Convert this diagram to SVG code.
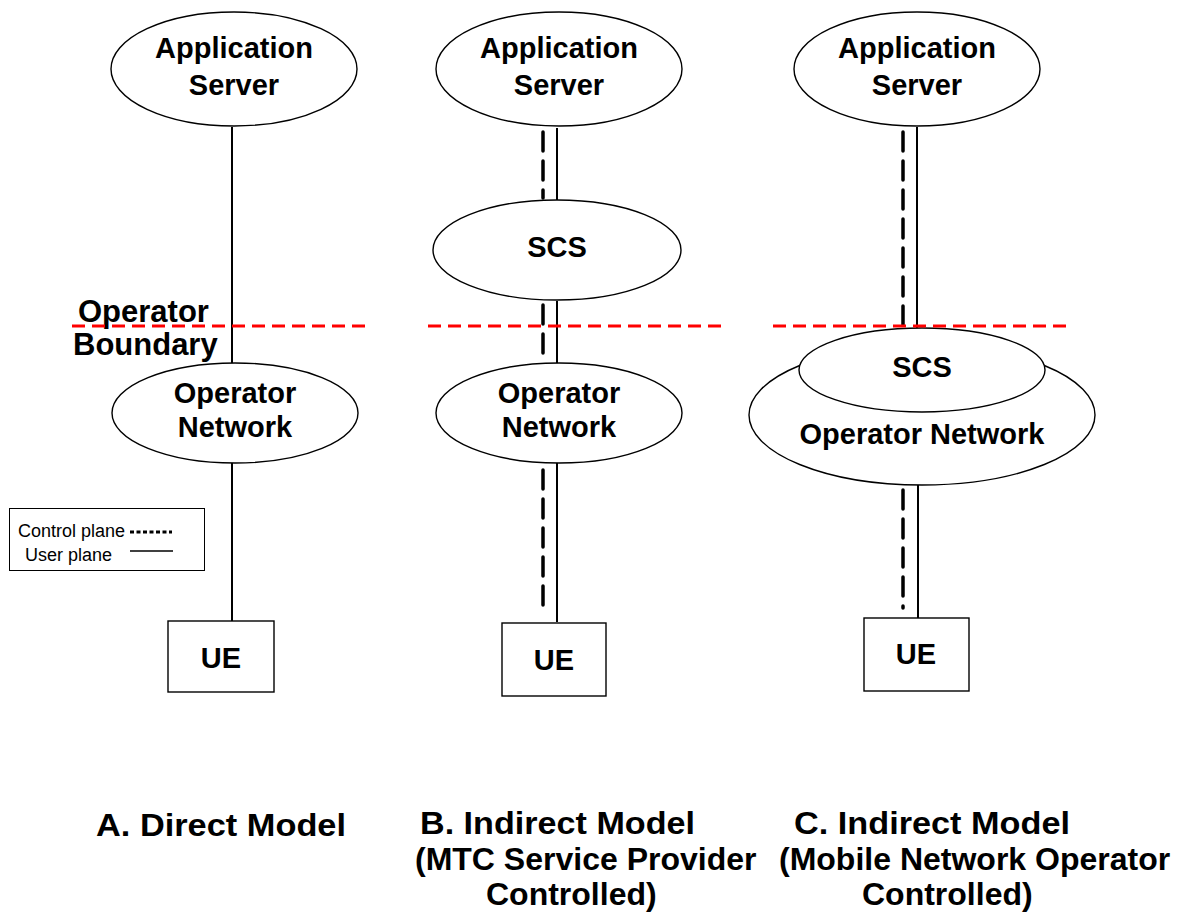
<svg xmlns="http://www.w3.org/2000/svg" width="1180" height="916" viewBox="0 0 1180 916">
<style>
.node{fill:#fff;stroke:#000;stroke-width:1.4}
.t{font-family:"Liberation Sans",Arial,sans-serif;font-weight:bold;font-size:29px;text-anchor:middle;fill:#000}
.bt{font-family:"Liberation Sans",Arial,sans-serif;font-weight:bold;font-size:31px;fill:#000}
.cap{font-family:"Liberation Sans",Arial,sans-serif;font-weight:bold;font-size:32px;fill:#000}
.lg{font-family:"Liberation Sans",Arial,sans-serif;font-size:18px;fill:#000}
.up{stroke:#000;stroke-width:2;fill:none}
.cp{stroke:#000;stroke-width:3.5;fill:none;stroke-dasharray:19 10;stroke-linecap:round}
.bd{stroke:#f00;stroke-width:3;fill:none;stroke-dasharray:13 7}
</style>
<rect width="1180" height="916" fill="#fff"/>
<g id="connectors">
<line class="up" x1="232" y1="127" x2="232" y2="363"/>
<line class="up" x1="232" y1="463" x2="232" y2="621"/>
<line class="up" x1="557" y1="128" x2="557" y2="200"/>
<line class="cp" x1="543" y1="132" x2="543" y2="198"/>
<line class="up" x1="557" y1="301" x2="557" y2="363"/>
<line class="cp" x1="543" y1="305" x2="543" y2="362"/>
<line class="up" x1="557" y1="463" x2="557" y2="622"/>
<line class="cp" x1="543" y1="470" x2="543" y2="615"/>
<line class="up" x1="917" y1="127" x2="917" y2="328"/>
<line class="cp" x1="903" y1="132" x2="903" y2="326"/>
<line class="up" x1="918" y1="485" x2="918" y2="618"/>
<line class="cp" x1="903" y1="490" x2="903" y2="608"/>
</g>
<g id="as-a"><ellipse class="node" cx="234" cy="69" rx="123" ry="57"/><text class="t" x="234" y="58">Application</text><text class="t" x="234" y="95">Server</text></g>
<g id="as-b"><ellipse class="node" cx="559" cy="69" rx="123" ry="57"/><text class="t" x="559" y="58">Application</text><text class="t" x="559" y="95">Server</text></g>
<g id="as-c"><ellipse class="node" cx="917" cy="69" rx="123" ry="57"/><text class="t" x="917" y="58">Application</text><text class="t" x="917" y="95">Server</text></g>
<g id="scs-b"><ellipse class="node" cx="557" cy="250" rx="124" ry="50"/><text class="t" x="557" y="257">SCS</text></g>
<g id="opnet-a"><ellipse class="node" cx="235" cy="413" rx="123" ry="50"/><text class="t" x="235" y="403">Operator</text><text class="t" x="235" y="437">Network</text></g>
<g id="opnet-b"><ellipse class="node" cx="559" cy="413" rx="123" ry="50"/><text class="t" x="559" y="403">Operator</text><text class="t" x="559" y="437">Network</text></g>
<g id="opnet-c"><ellipse class="node" cx="922" cy="415" rx="173" ry="70"/><text class="t" x="922" y="444">Operator Network</text></g>
<g id="scs-c"><ellipse class="node" cx="922" cy="370" rx="123" ry="42"/><text class="t" x="922" y="377">SCS</text></g>
<g id="ue-a"><rect class="node" x="168" y="621" width="106" height="71"/><text class="t" x="221" y="668">UE</text></g>
<g id="ue-b"><rect class="node" x="502" y="623" width="104" height="73"/><text class="t" x="554" y="670">UE</text></g>
<g id="ue-c"><rect class="node" x="864" y="618" width="105" height="73"/><text class="t" x="916" y="664">UE</text></g>
<g id="boundary">
<text class="bt" x="78" y="322">Operator</text>
<text class="bt" x="73" y="355">Boundary</text>
<line class="bd" x1="72" y1="326" x2="368" y2="326"/>
<line class="bd" x1="428" y1="326" x2="722" y2="326"/>
<line class="bd" x1="773" y1="326" x2="1068" y2="326"/>
</g>
<g id="legend">
<rect x="9.5" y="508.5" width="195" height="62" fill="#fff" stroke="#000" stroke-width="1"/>
<text class="lg" x="18" y="537">Control plane</text>
<line x1="130" y1="532" x2="172" y2="532" stroke="#000" stroke-width="3" stroke-dasharray="4 2.5"/>
<text class="lg" x="25" y="561">User plane</text>
<line x1="130" y1="551" x2="173" y2="551" stroke="#000" stroke-width="1.5"/>
</g>
<g id="captions">
<text class="cap" x="96" y="836" textLength="250" lengthAdjust="spacingAndGlyphs">A. Direct Model</text>
<text class="cap" x="420" y="834" textLength="275" lengthAdjust="spacingAndGlyphs">B. Indirect Model</text>
<text class="cap" x="415" y="870">(MTC Service Provider</text>
<text class="cap" x="486" y="905">Controlled)</text>
<text class="cap" x="794" y="834" textLength="276" lengthAdjust="spacingAndGlyphs">C. Indirect Model</text>
<text class="cap" x="779" y="870">(Mobile Network Operator</text>
<text class="cap" x="862" y="905">Controlled)</text>
</g>
</svg>
